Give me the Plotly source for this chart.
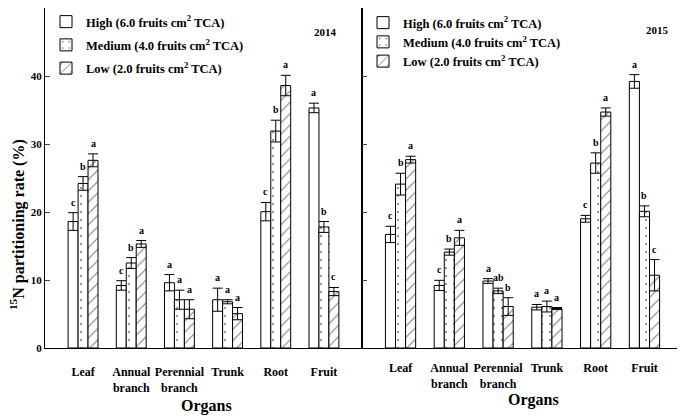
import plotly.graph_objects as go

organs = ["Leaf", "Annual branch", "Perennial branch", "Trunk", "Root", "Fruit"]
tick_text_2014 = ["Leaf", "Annual<br>branch", "Perennial<br>branch", "Trunk", "Root", "Fruit"]
tick_text_2015 = ["Leaf", "Annual<br>branch", "Perennial<br>branch", "Trunk", "Root", "Fruit"]

series_names = ["High (6.0 fruits cm<sup>2</sup> TCA)",
                "Medium (4.0 fruits cm<sup>2</sup> TCA)",
                "Low (2.0 fruits cm<sup>2</sup> TCA)"]

# 2014
high_2014 = [18.6, 9.2, 9.6, 7.1, 20.05, 35.3]
high_2014_err = [1.3, 0.7, 1.2, 1.7, 1.35, 0.7]
medium_2014 = [24.2, 12.5, 7.1, 6.8, 31.9, 17.8]
medium_2014_err = [1.0, 0.8, 1.4, 0.3, 1.6, 0.8]
low_2014 = [27.6, 15.3, 5.7, 5.05, 38.6, 8.3]
low_2014_err = [0.95, 0.5, 1.4, 0.9, 1.5, 0.6]
letters_high_2014 = ["c", "c", "a", "a", "c", "a"]
letters_medium_2014 = ["b", "b", "a", "a", "b", "b"]
letters_low_2014 = ["a", "a", "a", "a", "a", "c"]

# 2015
high_2015 = [16.7, 9.2, 9.85, 6.0, 19.0, 39.2]
high_2015_err = [1.2, 0.75, 0.35, 0.4, 0.5, 1.0]
medium_2015 = [24.1, 14.1, 8.4, 6.1, 27.2, 20.1]
medium_2015_err = [1.6, 0.45, 0.4, 0.8, 1.5, 0.8]
low_2015 = [27.7, 16.2, 6.1, 5.8, 34.7, 10.7]
low_2015_err = [0.5, 1.1, 1.3, 0.15, 0.6, 2.3]
letters_high_2015 = ["c", "c", "a", "a", "c", "a"]
letters_medium_2015 = ["b", "b", "ab", "a", "b", "b"]
letters_low_2015 = ["a", "a", "b", "a", "a", "c"]

y_ticks = [0, 10, 20, 30, 40, 50]

FONT = "Liberation Serif, Times New Roman, serif"
OFF = 8  # page body margin offset
W, H = 685 - OFF, 416 - OFF
ML, MR, MT, MB = 45 - OFF, 2, 0, 68
PW = W - ML - MR
PH = H - MT - MB
DIV = 362 - OFF
split = (DIV - ML) / PW
XR = [-0.79, 5.79]
BARGAP = 0.38

patterns = [dict(shape=""),
            dict(shape=".", size=8, solidity=0.06, fgcolor="black", bgcolor="white", fillmode="overlay"),
            dict(shape="/", size=8, solidity=0.14, fgcolor="black", bgcolor="white", fillmode="overlay")]

fig = go.Figure()

datasets = [
    ("x", "y", "legend", [high_2014, medium_2014, low_2014],
     [high_2014_err, medium_2014_err, low_2014_err],
     [letters_high_2014, letters_medium_2014, letters_low_2014]),
    ("x2", "y2", "legend2", [high_2015, medium_2015, low_2015],
     [high_2015_err, medium_2015_err, low_2015_err],
     [letters_high_2015, letters_medium_2015, letters_low_2015]),
]

for xa, ya, lg, vals, errs, lets in datasets:
    for i in range(3):
        fig.add_trace(go.Bar(
            x=organs, y=vals[i], name=series_names[i],
            xaxis=xa, yaxis=ya, legend=lg, offsetgroup=str(i),
            legendgroup=lg + str(i),
            marker=dict(color="white", line=dict(color="black", width=1), pattern=patterns[i]),
            error_y=dict(type="data", array=errs[i], symmetric=True,
                         thickness=1, width=5, color="black"),
        ))

# letters
panel_px = [DIV - ML, W - MR - DIV]
annotations = []
for k, (xa, ya, lg, vals, errs, lets) in enumerate(datasets):
    cat_px = panel_px[k] / (XR[1] - XR[0])
    bw = (1 - BARGAP) / 3 * cat_px
    for i in range(3):
        for j, org in enumerate(organs):
            annotations.append(dict(
                x=org, y=vals[i][j] + errs[i][j], xref=xa, yref=ya,
                text=lets[i][j], showarrow=False, yanchor="bottom",
                xshift=(i - 1) * bw, yshift=3,
                font=dict(family=FONT, size=10, color="black", weight="bold")))

def px_x(p):
    return (p - OFF - ML) / PW

def px_y(p):
    return (H - MB - (p - OFF)) / PH

for txt, xp, yp in [("2014", 325, 32), ("2015", 657, 30)]:
    annotations.append(dict(x=px_x(xp), y=px_y(yp), xref="paper", yref="paper",
                            text=txt, showarrow=False, xanchor="center", yanchor="middle",
                            font=dict(family=FONT, size=11, color="black", weight="bold")))

for xp, yp in [(206, 406), (533, 400)]:
    annotations.append(dict(x=px_x(xp), y=px_y(yp), xref="paper", yref="paper",
                            text="Organs", showarrow=False, xanchor="center", yanchor="middle",
                            font=dict(family=FONT, size=16, color="black", weight="bold")))

annotations.append(dict(x=px_x(18), y=px_y(225), xref="paper", yref="paper",
                        text="<sup>15</sup>N partitioning rate (%)", textangle=-90,
                        showarrow=False, xanchor="center", yanchor="middle",
                        font=dict(family=FONT, size=16, color="black", weight="bold")))

axis_common = dict(showline=True, linecolor="black", linewidth=1, mirror=True,
                   showgrid=False, zeroline=False, automargin=False)

fig.update_layout(
    width=W, height=H,
    margin=dict(l=ML, r=MR, t=MT, b=MB, autoexpand=False),
    paper_bgcolor="white", plot_bgcolor="white",
    barmode="group", bargap=BARGAP, bargroupgap=0,
    font=dict(family=FONT, color="black"),
    annotations=annotations,
    xaxis=dict(domain=[0, split], range=XR, tickvals=organs, ticktext=tick_text_2014,
               ticks="", ticklabelstandoff=13,
               tickfont=dict(family=FONT, size=12, weight="bold"), **axis_common),
    xaxis2=dict(domain=[split, 1], range=XR, tickvals=organs, ticktext=tick_text_2015,
                ticks="", ticklabelstandoff=9, anchor="y2",
                tickfont=dict(family=FONT, size=12, weight="bold"), **axis_common),
    yaxis=dict(range=[0, 50], tickvals=y_ticks, ticks="inside", ticklen=5,
               tickfont=dict(family=FONT, size=11, weight="bold"), **axis_common),
    yaxis2=dict(range=[0, 50], tickvals=y_ticks, ticks="inside", ticklen=5,
                showticklabels=False, anchor="x2", **axis_common),
    legend=dict(x=px_x(46), y=px_y(7), xanchor="left", yanchor="top",
                bgcolor="rgba(0,0,0,0)", traceorder="grouped", tracegroupgap=4,
                font=dict(family=FONT, size=12.5, color="black", weight="bold")),
    legend2=dict(x=px_x(363), y=px_y(8), xanchor="left", yanchor="top",
                 bgcolor="rgba(0,0,0,0)", traceorder="grouped", tracegroupgap=0,
                 font=dict(family=FONT, size=12.5, color="black", weight="bold")),
)

fig.write_html("out.html")
